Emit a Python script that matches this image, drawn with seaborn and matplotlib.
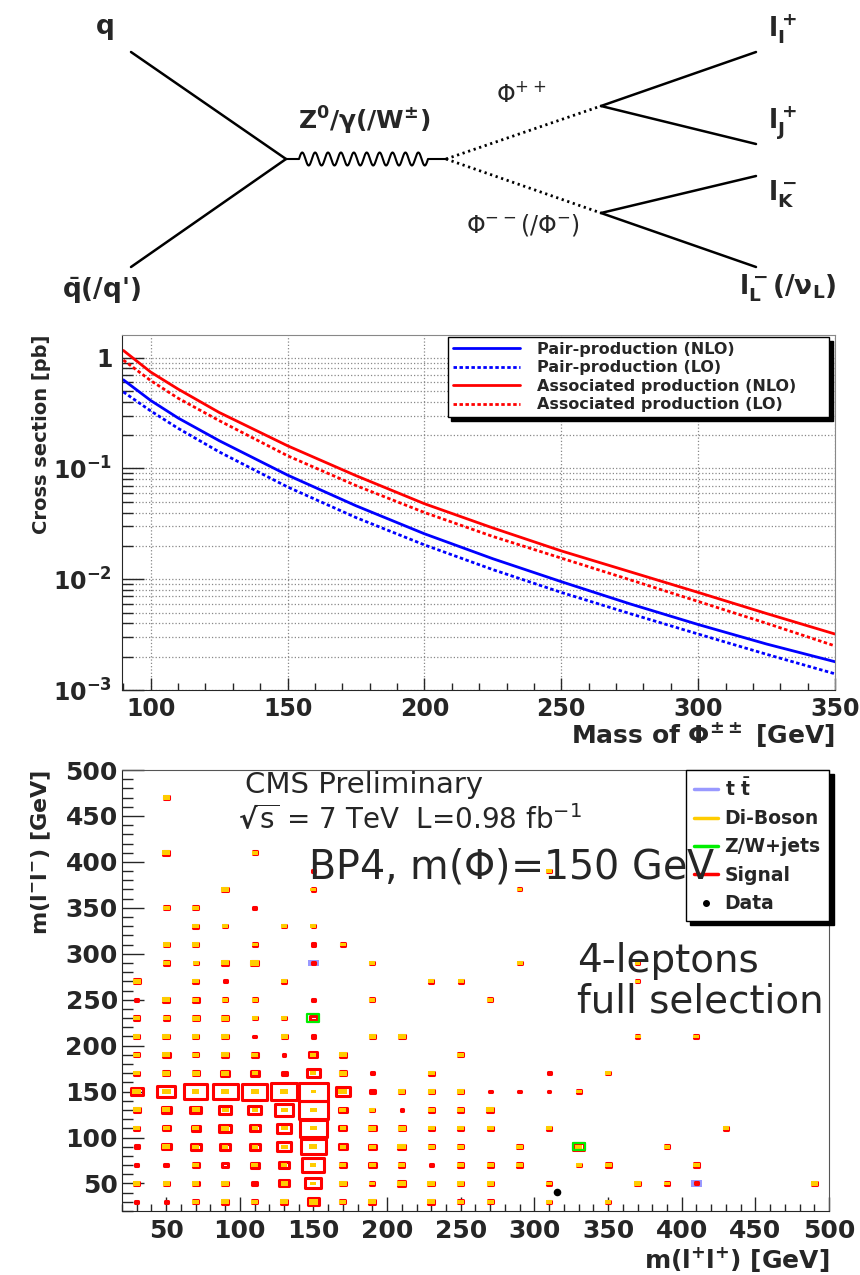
import matplotlib
matplotlib.use('Agg')
import numpy as np
import pandas as pd
import matplotlib.pyplot as plt
from matplotlib.path import Path
from matplotlib.markers import MarkerStyle
from matplotlib.lines import Line2D
from matplotlib.ticker import MultipleLocator, FuncFormatter, NullFormatter
import seaborn as sns

# ---- panel 2: Phi++ production cross sections [pb] vs mass [GeV]
mass = [90, 100, 110, 125, 150, 175, 200, 225, 250, 275, 300, 325, 350]
pair_nlo = [0.63, 0.41, 0.285, 0.178, 0.087, 0.046, 0.0257, 0.0153, 0.0095, 0.0060, 0.0039, 0.0026, 0.0018]
pair_lo = [0.49, 0.33, 0.23, 0.141, 0.068, 0.036, 0.0204, 0.0122, 0.0076, 0.0049, 0.0032, 0.0021, 0.0014]
assoc_nlo = [1.16, 0.74, 0.52, 0.32, 0.16, 0.086, 0.048, 0.029, 0.018, 0.0117, 0.0076, 0.0049, 0.0032]
assoc_lo = [0.95, 0.62, 0.43, 0.27, 0.13, 0.070, 0.040, 0.0243, 0.0155, 0.0099, 0.0063, 0.0040, 0.0025]
xsec_labels = ['Pair-production (NLO)', 'Pair-production (LO)',
               'Associated production (NLO)', 'Associated production (LO)']

# ---- panel 3: box histograms, (m(l+l+), m(l-l-), relative content), 20 GeV bins
signal_bins = [
    (30, 30, .010), (50, 30, .010), (70, 30, .029), (90, 30, .041), (110, 30, .029), (130, 30, .041),
    (150, 30, .157), (170, 30, .029), (190, 30, .041), (230, 30, .041), (250, 30, .029), (270, 30, .029),
    (310, 30, .018), (350, 30, .018),
    (30, 50, .029), (50, 50, .029), (70, 50, .041), (90, 50, .041), (110, 50, .029), (130, 50, .108),
    (150, 50, .295), (170, 50, .041), (190, 50, .018), (210, 50, .056), (230, 50, .041), (250, 50, .029),
    (270, 50, .029), (310, 50, .018), (370, 50, .029), (390, 50, .018), (410, 50, .012), (490, 50, .029),
    (30, 70, .010), (50, 70, .018), (70, 70, .041), (90, 70, .041), (110, 70, .074), (130, 70, .115),
    (150, 70, .558), (170, 70, .041), (190, 70, .056), (210, 70, .029), (230, 70, .008), (250, 70, .029),
    (270, 70, .029), (290, 70, .029), (330, 70, .018), (350, 70, .029), (410, 70, .029),
    (30, 90, .018), (50, 90, .093), (70, 90, .115), (90, 90, .108), (110, 90, .115), (130, 90, .216),
    (150, 90, .720), (170, 90, .068), (190, 90, .056), (210, 90, .056), (230, 90, .029), (250, 90, .029),
    (290, 90, .029), (330, 90, .139), (390, 90, .018),
    (30, 110, .029), (50, 110, .056), (70, 110, .074), (90, 110, .157), (110, 110, .115), (130, 110, .216),
    (150, 110, .900), (170, 110, .056), (190, 110, .056), (210, 110, .041), (230, 110, .029), (250, 110, .029),
    (270, 110, .029), (310, 110, .018), (430, 110, .018),
    (30, 130, .041), (50, 130, .093), (70, 130, .139), (90, 130, .157), (110, 130, .195), (130, 130, .373),
    (150, 130, .970), (170, 130, .068), (190, 130, .018), (210, 130, .008), (230, 130, .029), (250, 130, .029),
    (270, 130, .041),
    (30, 150, .157), (50, 150, .360), (70, 150, .610), (90, 150, .720), (110, 150, .760), (130, 150, .820),
    (150, 150, .950), (170, 150, .250), (190, 150, .029), (210, 150, .029), (230, 150, .029), (250, 150, .029),
    (270, 150, .008), (290, 150, .008), (310, 150, .008), (330, 150, .018),
    (30, 170, .029), (50, 170, .041), (70, 170, .041), (90, 170, .079), (110, 170, .074), (130, 170, .029),
    (150, 170, .216), (170, 170, .041), (190, 170, .010), (230, 170, .029), (310, 170, .010), (350, 170, .018),
    (30, 190, .029), (50, 190, .056), (70, 190, .029), (90, 190, .041), (110, 190, .041), (130, 190, .010),
    (150, 190, .074), (170, 190, .041), (250, 190, .029),
    (30, 210, .029), (50, 210, .041), (70, 210, .029), (90, 210, .041), (110, 210, .010), (130, 210, .029),
    (150, 210, .018), (190, 210, .029), (210, 210, .041), (370, 210, .018), (410, 210, .018),
    (30, 230, .029), (50, 230, .029), (70, 230, .041), (90, 230, .041), (110, 230, .018), (130, 230, .018),
    (150, 230, .056),
    (30, 250, .010), (50, 250, .041), (70, 250, .041), (90, 250, .018), (110, 250, .018), (150, 250, .010),
    (190, 250, .018), (270, 250, .018),
    (30, 270, .041), (70, 270, .029), (90, 270, .010), (130, 270, .018), (230, 270, .018), (250, 270, .018),
    (370, 270, .012),
    (50, 290, .029), (70, 290, .018), (90, 290, .041), (110, 290, .056), (150, 290, .012), (190, 290, .018),
    (290, 290, .018), (370, 290, .012),
    (50, 310, .029), (70, 310, .029), (110, 310, .018), (150, 310, .018), (170, 310, .018),
    (70, 330, .029), (90, 330, .018), (130, 330, .018), (150, 330, .018),
    (50, 350, .029), (70, 350, .029), (110, 350, .010),
    (90, 370, .041), (150, 370, .018), (290, 370, .012),
    (150, 390, .010), (310, 390, .018),
    (50, 410, .041), (110, 410, .018),
    (50, 470, .029),
]
diboson_bins = [
    (70, 30, .056), (90, 30, .074), (110, 30, .056), (130, 30, .074), (150, 30, .093), (170, 30, .056),
    (190, 30, .074), (230, 30, .074), (250, 30, .056), (270, 30, .056), (310, 30, .041), (350, 30, .041),
    (30, 50, .056), (50, 50, .056), (70, 50, .056), (90, 50, .074), (130, 50, .056), (150, 50, .041),
    (170, 50, .074), (190, 50, .041), (210, 50, .093), (230, 50, .074), (250, 50, .056), (270, 50, .056),
    (310, 50, .041), (370, 50, .056), (390, 50, .041), (490, 50, .056),
    (70, 70, .056), (110, 70, .056), (130, 70, .041), (150, 70, .041), (170, 70, .056), (190, 70, .056),
    (210, 70, .056), (250, 70, .056), (270, 70, .056), (290, 70, .056), (330, 70, .041), (350, 70, .056),
    (410, 70, .056),
    (50, 90, .074), (70, 90, .056), (90, 90, .041), (110, 90, .041), (130, 90, .056), (150, 90, .074),
    (170, 90, .041), (190, 90, .056), (210, 90, .093), (230, 90, .056), (250, 90, .056), (290, 90, .056),
    (330, 90, .056), (390, 90, .041),
    (30, 110, .056), (50, 110, .056), (70, 110, .056), (90, 110, .074), (110, 110, .041), (130, 110, .056),
    (150, 110, .056), (170, 110, .041), (190, 110, .074), (210, 110, .074), (230, 110, .056), (250, 110, .056),
    (270, 110, .056), (310, 110, .041), (430, 110, .041),
    (30, 130, .074), (50, 130, .074), (70, 130, .074), (90, 130, .056), (110, 130, .041), (130, 130, .056),
    (150, 130, .056), (170, 130, .056), (190, 130, .041), (230, 130, .056), (250, 130, .056), (270, 130, .074),
    (30, 150, .093), (50, 150, .093), (70, 150, .056), (90, 150, .074), (110, 150, .074), (130, 150, .074),
    (150, 150, .029), (170, 150, .093), (210, 150, .056), (230, 150, .056), (250, 150, .056), (330, 150, .041),
    (30, 170, .056), (50, 170, .074), (70, 170, .074), (90, 170, .074), (110, 170, .041), (150, 170, .041),
    (170, 170, .074), (230, 170, .056), (350, 170, .041),
    (30, 190, .056), (50, 190, .074), (70, 190, .056), (90, 190, .074), (110, 190, .056), (150, 190, .041),
    (170, 190, .074), (250, 190, .056),
    (30, 210, .056), (50, 210, .074), (70, 210, .056), (90, 210, .074), (130, 210, .056), (190, 210, .056),
    (210, 210, .074), (370, 210, .041), (410, 210, .041),
    (30, 230, .056), (50, 230, .056), (70, 230, .074), (90, 230, .074), (110, 230, .041), (130, 230, .041),
    (50, 250, .074), (70, 250, .056), (90, 250, .041), (110, 250, .041), (190, 250, .041), (270, 250, .041),
    (30, 270, .074), (70, 270, .056), (130, 270, .041), (230, 270, .041), (250, 270, .041), (370, 270, .029),
    (50, 290, .056), (70, 290, .041), (90, 290, .074), (110, 290, .093), (190, 290, .041), (290, 290, .041),
    (370, 290, .029),
    (50, 310, .056), (70, 310, .056), (110, 310, .041), (170, 310, .041),
    (70, 330, .056), (90, 330, .041), (130, 330, .041), (150, 330, .041),
    (50, 350, .056), (70, 350, .056),
    (90, 370, .074), (150, 370, .041), (290, 370, .029),
    (310, 390, .041),
    (50, 410, .074), (110, 410, .041),
    (50, 470, .056),
]
ttbar_bins = [(150, 290, .139), (410, 50, .132)]
zwjets_bins = [(150, 230, .166), (330, 90, .166)]
data_mpp = [315]
data_mmm = [41]
hist_labels = [r'$t\ \bar{t}$', 'Di-Boson', 'Z/W+jets', 'Signal', 'Data']
hist_colors = ['#9999ff', '#ffcc00', '#00ee00', '#ff0000', 'black']

# ---- panel 1: Feynman diagram nodes (pixel positions of the drawing)
quark_ends = [(131, 52), (131, 267)]
vtx_q = (286, 159)
vtx_z = (446, 159)
vtx_pp = (601, 106)
vtx_mm = (601, 213)
lepton_ends_pp = [(756, 52), (756, 144)]
lepton_ends_mm = [(756, 176), (756, 267)]

sns.set_style('ticks')
plt.rcParams['font.family'] = ['DejaVu Sans']
plt.rcParams['font.weight'] = 'bold'
plt.rcParams['axes.labelweight'] = 'bold'
plt.rcParams['mathtext.default'] = 'regular'

fig = plt.figure(figsize=(8.6, 12.75), dpi=100)
FW, FH = 860.0, 1275.0


def panel(left, top, right, bottom):
    return fig.add_axes([left / FW, 1 - bottom / FH, (right - left) / FW, (bottom - top) / FH])


# ================= Feynman diagram =================
ax_d = panel(0, 0, 860, 305)
ax_d.set_xlim(0, 860)
ax_d.set_ylim(305, 0)
ax_d.axis('off')
for end in quark_ends:
    ax_d.plot([end[0], vtx_q[0]], [end[1], vtx_q[1]], color='black', lw=1.8)
wig = np.linspace(299, 428, 600)
ax_d.plot(np.r_[vtx_q[0], wig, vtx_z[0]],
          np.r_[vtx_q[1], vtx_q[1] - 6.5 * np.sin(2 * np.pi * (wig - 299) / 12.9), vtx_z[1]],
          color='black', lw=1.5)
for v in (vtx_pp, vtx_mm):
    ax_d.plot([vtx_z[0], v[0]], [vtx_z[1], v[1]], color='black', lw=2, ls=(0, (0.8, 1.3)))
for v, ends in ((vtx_pp, lepton_ends_pp), (vtx_mm, lepton_ends_mm)):
    for end in ends:
        ax_d.plot([v[0], end[0]], [v[1], end[1]], color='black', lw=1.8)

ax_d.text(105, 27, 'q', fontsize=19, ha='center', va='center')
ax_d.text(62, 291, r"$\bar{q}$(/q')", fontsize=19, ha='left', va='center')
ax_d.text(298, 121, r'Z$^0$/$\gamma$(/W$^{\pm}$)', fontsize=18, ha='left', va='center')
ax_d.text(496, 94, r'$\Phi^{++}$', fontsize=17, fontweight='normal', ha='left', va='center')
ax_d.text(466, 225, r'$\Phi^{--}$(/$\Phi^{-}$)', fontsize=17, fontweight='normal', ha='left', va='center')
ax_d.text(768, 29, r'$l_I^+$', fontsize=19, ha='left', va='center')
ax_d.text(768, 123, r'$l_J^+$', fontsize=19, ha='left', va='center')
ax_d.text(768, 194, r'$l_K^-$', fontsize=19, ha='left', va='center')
ax_d.text(739, 288, r'$l_L^-$(/$\nu_L$)', fontsize=19, ha='left', va='center')

# ================= cross sections =================
ax_x = panel(122, 335, 835, 690)
series = [(pair_nlo, 'blue', '-'), (pair_lo, 'blue', (0, (1.25, 0.9))),
          (assoc_nlo, 'red', '-'), (assoc_lo, 'red', (0, (1.25, 0.9)))]
for (vals, col, ls), lab in zip(series, xsec_labels):
    sns.lineplot(x=mass, y=vals, ax=ax_x, color=col, linestyle=ls, linewidth=2.0, label=lab)
ax_x.set_yscale('log')
ax_x.set_xlim(89.5, 350)
ax_x.set_ylim(1e-3, 1.6)
ax_x.xaxis.set_major_locator(MultipleLocator(50))
ax_x.xaxis.set_minor_locator(MultipleLocator(10))
ax_x.yaxis.set_major_formatter(FuncFormatter(
    lambda v, p: '1' if abs(v - 1) < 1e-9 else r'$10^{%d}$' % round(np.log10(v))))
ax_x.yaxis.set_minor_formatter(NullFormatter())
ax_x.grid(True, which='major', axis='x', ls=':', color='#888888', lw=0.9)
ax_x.grid(True, which='both', axis='y', ls=':', color='#888888', lw=0.9)
ax_x.tick_params(axis='x', which='major', direction='in', length=9, width=1, labelsize=17, pad=5)
ax_x.tick_params(axis='x', which='minor', direction='in', length=5, width=1)
ax_x.tick_params(axis='y', which='major', direction='in', length=16, width=1, labelsize=17, pad=7)
ax_x.tick_params(axis='y', which='minor', direction='in', length=8, width=1)
for s in ('top', 'right'):
    ax_x.spines[s].set_color('#888888')
ax_x.set_xlabel(r'Mass of $\Phi^{\pm\pm}$ [GeV]', fontsize=18, loc='right')
ax_x.xaxis.set_label_coords(1.0, -0.085)
ax_x.set_ylabel('Cross section [pb]', fontsize=14, loc='top')
ax_x.yaxis.set_label_coords(-0.100, 1.0)
handles, labels = ax_x.get_legend_handles_labels()
leg = ax_x.legend(handles, labels, loc='upper left', bbox_to_anchor=(0.457, 0.7, 0.535, 0.294),
                  mode='expand', borderaxespad=0, fancybox=False, framealpha=1,
                  prop={'weight': 'bold', 'size': 11.5}, handlelength=4.2, handletextpad=1.1,
                  labelspacing=0.22, borderpad=0.3,
                  shadow={'color': 'black', 'alpha': 1, 'ox': 2.5, 'oy': -2.5})
leg.get_frame().set_edgecolor('black')
leg.get_frame().set_linewidth(1.0)

# ================= 2D box histograms =================
ax_h = panel(122, 770, 829, 1211)
bin_w_pt = 707 * 0.72 / 24
box_ratio = 441.0 / 707.0
box = MarkerStyle(Path([(-1, -box_ratio), (1, -box_ratio), (1, box_ratio), (-1, box_ratio),
                        (-1, -box_ratio)], closed=True), joinstyle='miter')


def boxes(bins, **kw):
    df = pd.DataFrame(bins, columns=['mpp', 'mmm', 'content'])
    sns.scatterplot(data=df, x='mpp', y='mmm', size='content', sizes=(0, bin_w_pt ** 2),
                    size_norm=(0, 1), marker=box, legend=False, ax=ax_h, **kw)


boxes(ttbar_bins, color=hist_colors[0], edgecolor='none', linewidth=0)
boxes(signal_bins, color=hist_colors[3], facecolor='none', edgecolor=hist_colors[3], linewidth=2.2)
boxes(diboson_bins, color=hist_colors[1], edgecolor='none', linewidth=0)
boxes(zwjets_bins, color=hist_colors[2], facecolor='none', edgecolor=hist_colors[2], linewidth=1.6)
sns.scatterplot(x=data_mpp, y=data_mmm, color='black', s=30, edgecolor='black', linewidth=0,
                ax=ax_h, legend=False)

ax_h.set_xlim(20, 500)
ax_h.set_ylim(20, 500)
for axis in (ax_h.xaxis, ax_h.yaxis):
    axis.set_major_locator(MultipleLocator(50))
    axis.set_minor_locator(MultipleLocator(10))
ax_h.tick_params(axis='x', which='major', direction='in', length=10, width=1, labelsize=18, pad=6)
ax_h.tick_params(axis='x', which='minor', direction='in', length=5, width=1)
ax_h.tick_params(axis='y', which='major', direction='in', length=16, width=1, labelsize=18, pad=3)
ax_h.tick_params(axis='y', which='minor', direction='in', length=8, width=1)
for s in ('top', 'right'):
    ax_h.spines[s].set_color('#555555')
ax_h.set_xlabel(r'm(l$^{+}$l$^{+}$) [GeV]', fontsize=18, loc='right')
ax_h.xaxis.set_label_coords(1.0, -0.078)
ax_h.set_ylabel(r'm(l$^{-}$l$^{-}$) [GeV]', fontsize=16, loc='top')
ax_h.yaxis.set_label_coords(-0.0976, 1.0)

leg_handles = [Line2D([], [], color=c, lw=2.5) for c in hist_colors[:4]]
leg_handles.append(Line2D([], [], color='black', marker='o', ms=4, ls='none'))
leg2 = ax_h.legend(leg_handles, hist_labels, loc='upper left', bbox_to_anchor=(0.798, 0.6, 0.2025, 0.4),
                   mode='expand', borderaxespad=0, fancybox=False, framealpha=1,
                   prop={'weight': 'bold', 'size': 13.5}, handlelength=1.3, handletextpad=0.35,
                   labelspacing=0.5, borderpad=0.4,
                   shadow={'color': 'black', 'alpha': 1, 'ox': 3, 'oy': -3})
leg2.get_frame().set_edgecolor('black')
leg2.get_frame().set_linewidth(1.0)

ax_h.text(0.174, 0.947, 'CMS Preliminary', transform=ax_h.transAxes, fontsize=21,
          fontweight='normal', va='baseline', zorder=10)
ax_h.text(0.164, 0.866, r'$\sqrt{s}$ = 7 TeV  L=0.98 fb$^{-1}$', transform=ax_h.transAxes,
          fontsize=20, fontweight='normal', va='baseline', zorder=10)
ax_h.text(0.263, 0.753, r'BP4, m($\Phi$)=150 GeV', transform=ax_h.transAxes, fontsize=28.5,
          fontweight='normal', va='baseline', zorder=10)
ax_h.text(0.644, 0.542, '4-leptons', transform=ax_h.transAxes, fontsize=28,
          fontweight='normal', va='baseline', zorder=10)
ax_h.text(0.644, 0.449, 'full selection', transform=ax_h.transAxes, fontsize=28,
          fontweight='normal', va='baseline', zorder=10)

fig.savefig('out.png', dpi=100)
